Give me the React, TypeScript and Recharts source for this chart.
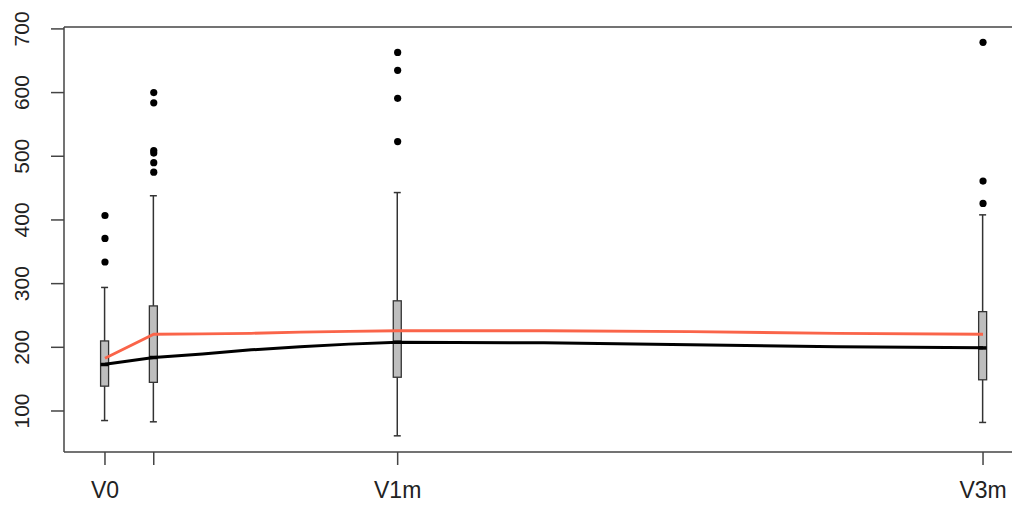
import {
  ComposedChart,
  Bar,
  Line,
  Scatter,
  XAxis,
  YAxis,
  ReferenceLine,
} from "recharts";

// box plot summaries per visit (x = days since V0)
const boxDays = [0, 5, 30, 90];
const boxLabels = ["V0", "", "V1m", "V3m"];
const whiskerLow = [85, 83, 61, 82];
const q1 = [139, 145, 153, 149];
const median = [173, 184, 208, 199];
const q3 = [210, 265, 273, 256];
const whiskerHigh = [294, 438, 443, 408];
const outliers = [
  [407, 371, 334],
  [600, 584, 509, 505, 490, 475],
  [663, 635, 591, 523],
  [679, 461, 426],
];

// fitted curves
const curveDays = [0, 5, 10, 15, 20, 25, 30, 45, 60, 75, 90];
const redCurve = [183, 220.5, 221, 222, 224, 225, 226, 226, 224.5, 222, 220.5];
const blackCurve = [173.3, 184, 189.5, 196, 201, 205, 208, 207, 204, 201, 199.5];

const yTicks = [100, 200, 300, 400, 500, 600, 700];
const X_DOMAIN: [number, number] = [-4.2, 94.2];
const Y_DOMAIN: [number, number] = [35.6, 703];

const boxData = boxDays.map((day, i) => ({
  day,
  lo: whiskerLow[i],
  q1: q1[i],
  med: median[i],
  q3: q3[i],
  hi: whiskerHigh[i],
}));

const outlierData = boxDays.flatMap((day, i) =>
  outliers[i].map((value) => ({ day, value }))
);

const curveData = curveDays.map((day, i) => ({
  day,
  red: redCurve[i],
  black: blackCurve[i],
}));

const AXIS = "#444";
const FONT = "'Liberation Sans', Arial, sans-serif";

function BoxShape(props: any) {
  const { x, y, width, height, payload } = props;
  const top = Math.min(y, y + height);
  const h = Math.abs(height);
  const { lo, hi } = payload;
  const py = (v: number) => top + ((hi - v) / (hi - lo)) * h;
  const cx = x + width / 2;
  const cap = 3.5;
  return (
    <g>
      <line x1={cx} x2={cx} y1={py(hi)} y2={py(payload.q3)} stroke="#333" strokeWidth={1.5} />
      <line x1={cx} x2={cx} y1={py(payload.q1)} y2={py(lo)} stroke="#333" strokeWidth={1.5} />
      <line x1={cx - cap} x2={cx + cap} y1={py(hi)} y2={py(hi)} stroke="#333" strokeWidth={1.5} />
      <line x1={cx - cap} x2={cx + cap} y1={py(lo)} y2={py(lo)} stroke="#333" strokeWidth={1.5} />
      <rect
        x={x}
        y={py(payload.q3)}
        width={width}
        height={py(payload.q1) - py(payload.q3)}
        fill="#bebebe"
        stroke="#333"
        strokeWidth={1.3}
      />
      <line x1={x} x2={x + width} y1={py(payload.med)} y2={py(payload.med)} stroke="#000" strokeWidth={3.5} />
    </g>
  );
}

function XTick(props: any) {
  const { x, y, payload } = props;
  const idx = boxDays.indexOf(payload.value);
  return (
    <text x={x} y={y} dy="0.71em" textAnchor="middle" fontSize={23} fill="#222" fontFamily={FONT}>
      {idx >= 0 ? boxLabels[idx] : ""}
    </text>
  );
}

function YTick(props: any) {
  const { x, y, payload } = props;
  return (
    <text
      x={x}
      y={y}
      transform={`rotate(-90 ${x} ${y})`}
      textAnchor="middle"
      fontSize={21}
      fill="#222"
      fontFamily={FONT}
    >
      {payload.value}
    </text>
  );
}

export default function App() {
  return (
    <div
      style={{
        position: "absolute",
        left: 0,
        top: 0,
        width: 1012,
        height: 506,
        overflow: "hidden",
        background: "#fff",
      }}
    >
      <ComposedChart
        width={1030}
        height={506}
        data={boxData}
        margin={{ top: 27, right: 6, bottom: 0, left: 0 }}
        style={{ fontFamily: FONT }}
      >
        <XAxis
          dataKey="day"
          type="number"
          domain={X_DOMAIN}
          ticks={boxDays}
          allowDataOverflow
          height={54}
          tickSize={13}
          tickMargin={17}
          stroke={AXIS}
          strokeWidth={1.5}
          tick={<XTick />}
        />
        <YAxis
          type="number"
          domain={Y_DOMAIN}
          ticks={yTicks}
          allowDataOverflow
          width={64}
          tickSize={13}
          tickMargin={22}
          stroke={AXIS}
          strokeWidth={1.5}
          tick={<YTick />}
        />
        <ReferenceLine y={Y_DOMAIN[1]} stroke={AXIS} strokeWidth={1.5} />
        <Bar
          dataKey={(d: any) => [d.lo, d.hi]}
          barSize={8}
          shape={<BoxShape />}
          isAnimationActive={false}
        />
        <Scatter
          data={outlierData}
          dataKey="value"
          isAnimationActive={false}
          shape={(p: any) => <circle cx={p.cx} cy={p.cy} r={3.6} fill="#000" />}
        />
        <Line
          data={curveData}
          dataKey="black"
          type="linear"
          stroke="#000"
          strokeWidth={3}
          dot={false}
          isAnimationActive={false}
        />
        <Line
          data={curveData}
          dataKey="red"
          type="linear"
          stroke="#fa6449"
          strokeWidth={2.8}
          dot={false}
          isAnimationActive={false}
        />
      </ComposedChart>
    </div>
  );
}
